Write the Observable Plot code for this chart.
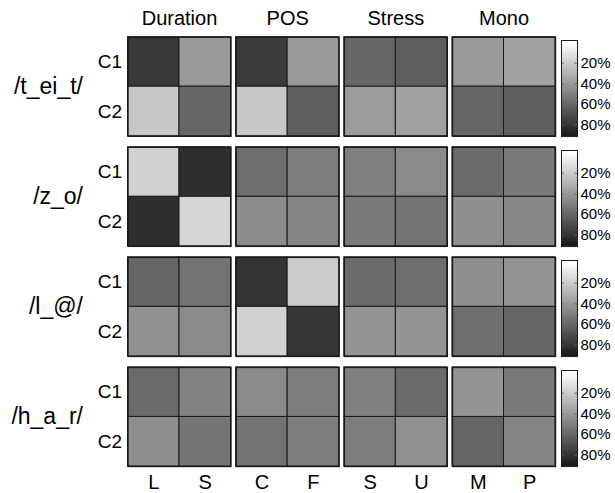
<!DOCTYPE html>
<html><head><meta charset="utf-8">
<script src="https://cdn.jsdelivr.net/npm/d3@7"></script>
<script src="https://cdn.jsdelivr.net/npm/@observablehq/plot@0.6"></script>
<style>
body{margin:0;background:#fff;}
#wrap{position:relative;width:615px;height:493px;font-family:"Liberation Sans",Arial,Helvetica,sans-serif;}
#wrap svg{position:absolute;overflow:visible;}
</style></head><body><div id="wrap"></div>
<script>
// ---- data (percent values, columns: Duration L,S | POS C,F | Stress S,U | Mono M,P)
const words = ["/t_ei_t/", "/z_o/", "/l_@/", "/h_a_r/"];
const features = ["Duration", "POS", "Stress", "Mono"];
const classes = ["C1", "C2"];
const letters = ["L", "S", "C", "F", "S", "U", "M", "P"];
const tickValues = [20, 40, 60, 80];

const tEiT_C1 = [78, 40, 77, 40, 60, 63, 40, 37];
const tEiT_C2 = [22, 60, 22, 63, 39, 37, 60, 63];
const zO_C1   = [18, 82, 57, 51, 50, 46, 58, 52];
const zO_C2   = [82, 17, 45, 48, 52, 55, 44, 47];
const lAt_C1  = [60, 55, 80, 20, 58, 57, 44, 42];
const lAt_C2  = [43, 46, 18, 79, 42, 42, 57, 60];
const hAR_C1  = [58, 49, 46, 51, 50, 58, 42, 52];
const hAR_C2  = [44, 54, 55, 51, 51, 43, 60, 48];

const series = {
  "/t_ei_t/": [tEiT_C1, tEiT_C2],
  "/z_o/": [zO_C1, zO_C2],
  "/l_@/": [lAt_C1, lAt_C2],
  "/h_a_r/": [hAR_C1, hAR_C2]
};

const cells = words.flatMap(w => classes.flatMap((c, ci) =>
  series[w][ci].map((v, j) => ({word: w, feature: features[Math.floor(j / 2)], pos: j % 2, cls: c, value: v}))));

// ---- layout
const W = 615, H = 493;
const mL = 127.5, mR = 60, mT = 36.7, mB = 27;
const font = '"Liberation Sans",Arial,Helvetica,sans-serif';
const colorOpts = {type: "linear", domain: [0, 100], range: ["#ffffff", "#000000"], interpolate: "rgb", clamp: true};

const wrap = document.getElementById("wrap");

const main = Plot.plot({
  width: W, height: H,
  marginLeft: mL, marginRight: mR, marginTop: mT, marginBottom: mB,
  style: {fontFamily: font, background: "transparent", color: "#000"},
  fx: {domain: features, paddingInner: 0.048, paddingOuter: 0, round: false, axis: null},
  fy: {domain: words, paddingInner: 0.1, paddingOuter: 0, round: false, axis: null},
  x: {domain: [0, 1], type: "band", padding: 0, round: false, axis: null},
  y: {domain: classes, type: "band", padding: 0, round: false, axis: null},
  color: colorOpts,
  marks: [
    Plot.cell(cells, {fx: "feature", fy: "word", x: "pos", y: "cls", fill: "value", stroke: "#1a1a1a", strokeWidth: 1}),
    Plot.frame({stroke: "#1a1a1a", strokeWidth: 1.4}),
    Plot.axisY({tickSize: 0, tickPadding: 6, fontSize: 19, label: null}),
    Plot.text(features.map(f => ({fx: f, fy: words[0], t: f})),
      {fx: "fx", fy: "fy", text: "t", frameAnchor: "top", lineAnchor: "bottom", dy: -12, fontSize: 20}),
    Plot.text(words.map(w => ({fx: features[0], fy: w, t: w})),
      {fx: "fx", fy: "fy", text: "t", frameAnchor: "left", textAnchor: "end", dx: -45, fontSize: 23}),
    Plot.text(letters.map((l, j) => ({fx: features[Math.floor(j / 2)], fy: words[words.length - 1], pos: j % 2, t: l})),
      {fx: "fx", fy: "fy", x: "pos", text: "t", frameAnchor: "bottom", lineAnchor: "middle", dy: 16.5, fontSize: 20})
  ]
});
main.style.left = "0px"; main.style.top = "0px";
wrap.appendChild(main);

// ---- colorbars, one per row
const fyBand = d3.scaleBand(words, [mT, H - mB]).paddingInner(0.1).paddingOuter(0);
const cbDomain = [-2, 91];
const ramp = d3.range(cbDomain[0], cbDomain[1], 0.5);
words.forEach(w => {
  const top = fyBand(w) + 3;
  const h = fyBand.bandwidth() - 3;
  const cb = Plot.plot({
    width: 60, height: h,
    marginLeft: 1, marginRight: 43, marginTop: 0, marginBottom: 0,
    style: {fontFamily: font, background: "transparent", color: "#000"},
    x: {axis: null},
    y: {domain: cbDomain, reverse: true, axis: null},
    color: colorOpts,
    marks: [
      Plot.rect(ramp, {y1: d => d, y2: d => d + 0.6, fill: d => d, shapeRendering: "crispEdges"}),
      Plot.tickY(tickValues, {y: d => d, insetLeft: 13, stroke: "#666", strokeWidth: 0.8}),
      Plot.tickY(tickValues, {y: d => d, insetRight: 13, stroke: "#666", strokeWidth: 0.8}),
      Plot.frame({stroke: "#1a1a1a", strokeWidth: 1}),
      Plot.axisY({anchor: "right", ticks: tickValues, tickFormat: d => d + "%", tickSize: 0, tickPadding: 3, fontSize: 15, label: null})
    ]
  });
  cb.style.left = "560px";
  cb.style.top = top + "px";
  wrap.appendChild(cb);
});
</script>
</body></html>
